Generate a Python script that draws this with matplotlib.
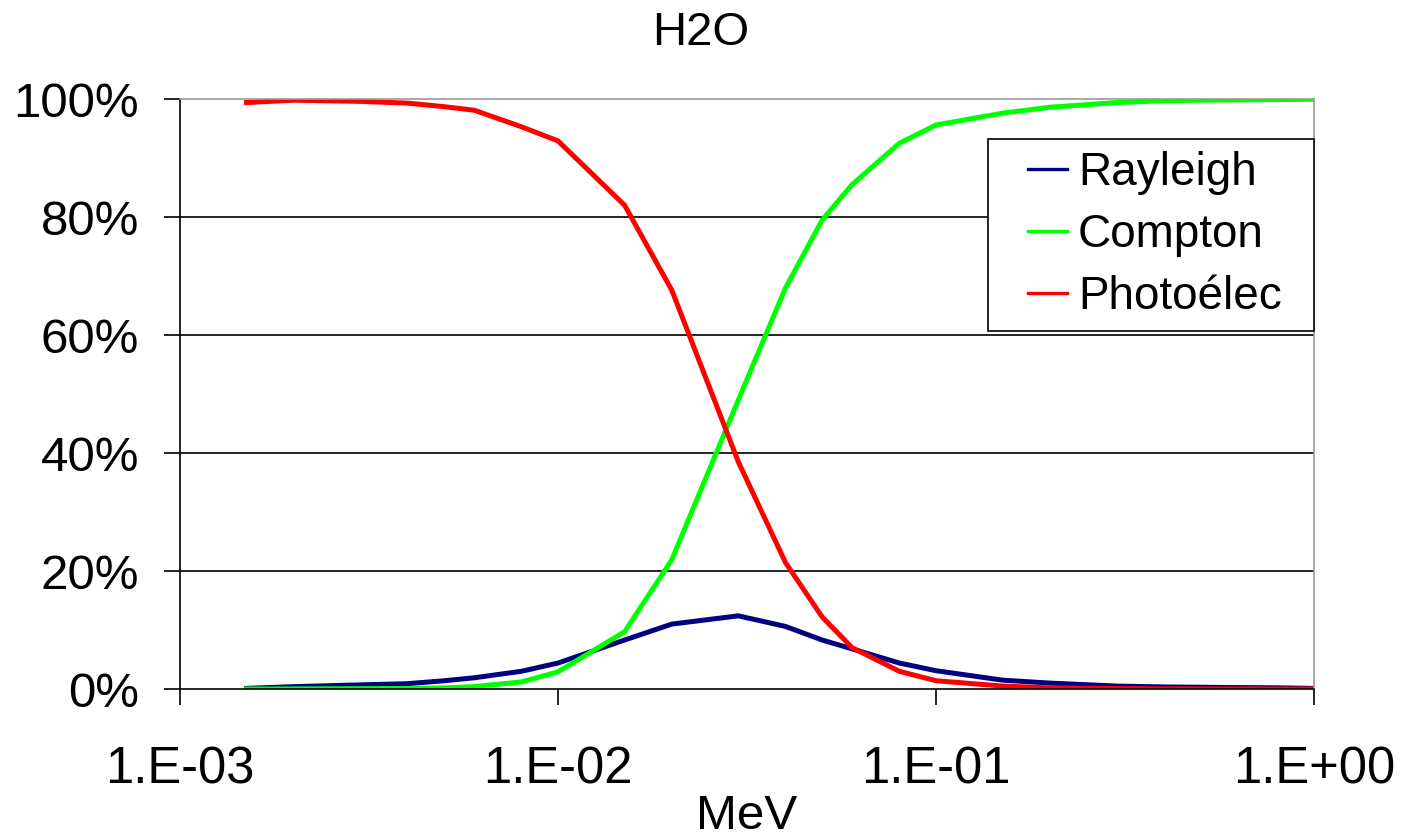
import matplotlib
matplotlib.use('Agg')
import numpy as np
import matplotlib.pyplot as plt
from matplotlib.ticker import FixedLocator, FuncFormatter, NullLocator
from matplotlib.legend_handler import HandlerLine2D

plt.rcParams['font.family'] = ['Liberation Sans', 'DejaVu Sans']

# energies (MeV), NIST grid
energy = [1.5e-3, 2e-3, 3e-3, 4e-3, 5e-3, 6e-3, 8e-3, 1e-2, 1.5e-2, 2e-2,
          3e-2, 4e-2, 5e-2, 6e-2, 8e-2, 0.1, 0.15, 0.2, 0.3, 0.4, 0.5,
          0.6, 0.8, 1.0]

# fractions (%)
rayleigh = [0.1, 0.4, 0.7, 0.9, 1.4, 1.9, 3.0, 4.4, 8.3, 11.0,
            12.4, 10.6, 8.3, 6.8, 4.4, 3.1, 1.5, 1.0, 0.5, 0.35, 0.3,
            0.25, 0.2, 0.1]
compton = [0.0, 0.02, 0.05, 0.1, 0.2, 0.4, 1.2, 2.9, 9.7, 21.9,
           49.0, 68.0, 79.5, 85.5, 92.5, 95.6, 97.6, 98.6, 99.4, 99.7, 99.8,
           99.85, 99.9, 99.95]
photoelec = [99.4, 99.8, 99.6, 99.3, 98.7, 98.1, 95.3, 92.9, 82.0, 67.6,
             38.5, 21.4, 12.2, 7.0, 3.0, 1.4, 0.5, 0.2, 0.07, 0.03, 0.02,
             0.01, 0.0, 0.0]

xticks = [1e-3, 1e-2, 1e-1, 1.0]
xtick_labels = ['1.E-03', '1.E-02', '1.E-01', '1.E+00']
yticks = [0, 20, 40, 60, 80, 100]


class ShiftedLine(HandlerLine2D):
    """legend handle drawn only on the right part of the handle box"""
    def __init__(self, shift, **kw):
        super().__init__(**kw)
        self.shift = shift

    def create_artists(self, legend, orig_handle, xdescent, ydescent, width,
                       height, fontsize, trans):
        arts = super().create_artists(legend, orig_handle, xdescent, ydescent,
                                      width, height, fontsize, trans)
        for a in arts:
            x = np.asarray(a.get_xdata(), dtype=float)
            a.set_xdata(np.linspace(x[0] + self.shift, x[-1], len(x)))
            a.set_linewidth(2.4)
        return arts


fig = plt.figure(figsize=(14.02, 8.38), dpi=100)
ax = fig.add_axes([180 / 1402, 1 - 689 / 838, (1314 - 180) / 1402, (689 - 99) / 838])

lines = []
lines += ax.plot(energy, rayleigh, color='#000080', lw=3.6, label='Rayleigh')
lines += ax.plot(energy, compton, color='#00FF00', lw=3.6, label='Compton')
lines += ax.plot(energy, photoelec, color='#FF0000', lw=3.6, label='Photoélec')

ax.set_xscale('log')
ax.set_xlim(1e-3, 1.0)
ax.set_ylim(0, 100)
ax.xaxis.set_major_locator(FixedLocator(xticks))
ax.xaxis.set_minor_locator(NullLocator())
ax.set_xticklabels(xtick_labels)
ax.yaxis.set_major_locator(FixedLocator(yticks))
ax.yaxis.set_major_formatter(FuncFormatter(lambda v, p: f'{v:.0f}%'))

for y in [20, 40, 60, 80]:
    ax.axhline(y, color='black', lw=1.2, zorder=0.5)

ax.spines['top'].set_color('#999999')
ax.spines['right'].set_color('#999999')
ax.spines['left'].set_color('black')
ax.spines['bottom'].set_color('black')
for s in ax.spines.values():
    s.set_linewidth(1.2)

ax.tick_params(axis='both', direction='out', length=11.5, width=1.2, colors='black')
ax.tick_params(axis='y', pad=18, labelsize=35.5)
ax.tick_params(axis='x', pad=29, labelsize=36.5)

ax.set_xlabel('MeV', fontsize=35.5, labelpad=0)
fig.text(0.5, 1 - 45 / 838, 'H2O', fontsize=34, ha='center', va='baseline')

leg = ax.legend(loc='upper left',
                bbox_to_anchor=(988 / 1402, 1 - 333 / 838, 326 / 1402, 194 / 838),
                bbox_transform=fig.transFigure, mode='expand', borderaxespad=0,
                fontsize=33, handlelength=1.45, handletextpad=0.24,
                labelspacing=0.39, borderpad=0.27, fancybox=False, framealpha=1,
                edgecolor='black',
                handler_map={l: ShiftedLine(19.8) for l in lines})
leg.get_frame().set_linewidth(1.2)

fig.savefig('out.png', dpi=100)
